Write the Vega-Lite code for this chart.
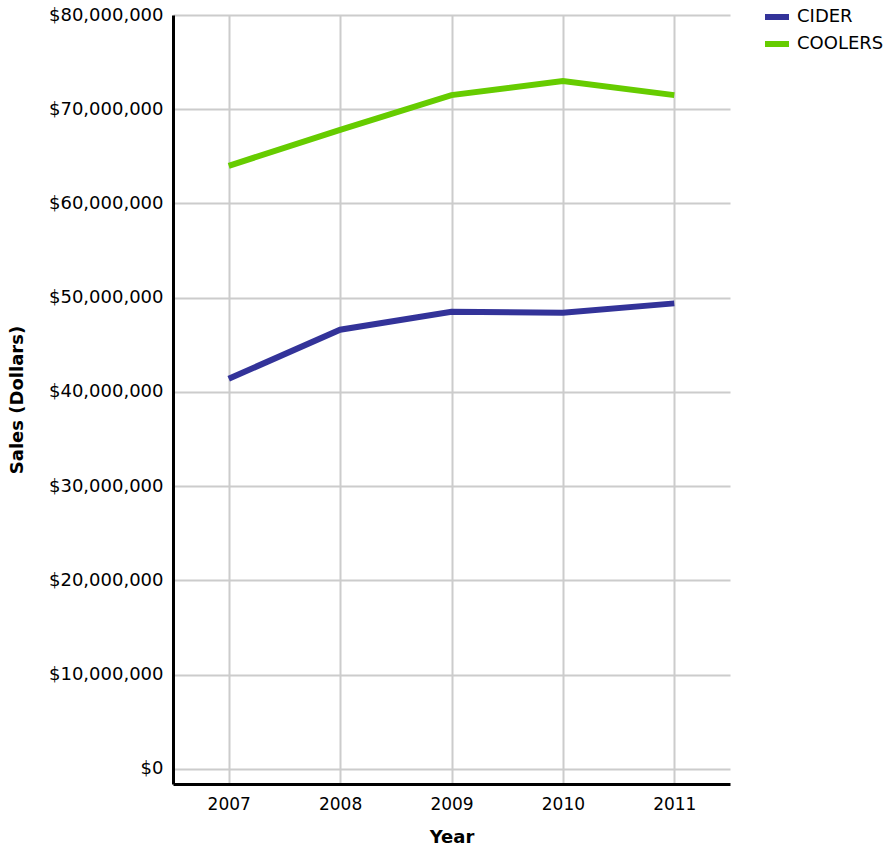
{
  "$schema": "https://vega.github.io/schema/vega-lite/v6.json",
  "width": 557,
  "height": 769,
  "autosize": {"type": "none"},
  "padding": {"left": 173, "top": 15, "right": 158, "bottom": 66},
  "background": "white",
  "config": {
    "view": {"stroke": null},
    "font": "DejaVu Sans"
  },
  "data": {
    "values": [
      {"Year": "2007", "Product": "CIDER", "Sales": 41400000},
      {"Year": "2008", "Product": "CIDER", "Sales": 46600000},
      {"Year": "2009", "Product": "CIDER", "Sales": 48500000},
      {"Year": "2010", "Product": "CIDER", "Sales": 48400000},
      {"Year": "2011", "Product": "CIDER", "Sales": 49400000},
      {"Year": "2007", "Product": "COOLERS", "Sales": 64000000},
      {"Year": "2008", "Product": "COOLERS", "Sales": 67800000},
      {"Year": "2009", "Product": "COOLERS", "Sales": 71500000},
      {"Year": "2010", "Product": "COOLERS", "Sales": 73000000},
      {"Year": "2011", "Product": "COOLERS", "Sales": 71500000}
    ]
  },
  "mark": {"type": "line", "strokeWidth": 6, "strokeCap": "butt", "strokeJoin": "miter"},
  "encoding": {
    "x": {
      "field": "Year",
      "type": "ordinal",
      "scale": {"type": "point", "padding": 0.5},
      "axis": {
        "title": "Year",
        "titleFont": "DejaVu Sans",
        "titleFontSize": 18,
        "titleFontWeight": "bold",
        "titleColor": "#000000",
        "titlePadding": 16,
        "labelAngle": 0,
        "labelFont": "DejaVu Sans",
        "labelFontSize": 17,
        "labelColor": "#000000",
        "labelPadding": 12,
        "ticks": false,
        "domainColor": "#000000",
        "domainWidth": 3,
        "grid": true,
        "gridColor": "#cccccc",
        "gridWidth": 2
      }
    },
    "y": {
      "field": "Sales",
      "type": "quantitative",
      "scale": {"domain": [-1600000, 80000000], "nice": false, "zero": false},
      "axis": {
        "title": "Sales (Dollars)",
        "titleFont": "DejaVu Sans",
        "titleFontSize": 18,
        "titleFontWeight": "bold",
        "titleColor": "#000000",
        "titlePadding": 22,
        "values": [0, 10000000, 20000000, 30000000, 40000000, 50000000, 60000000, 70000000, 80000000],
        "format": "$,.0f",
        "labelFont": "DejaVu Sans",
        "labelFontSize": 18,
        "labelColor": "#000000",
        "labelPadding": 10,
        "labelBaseline": "middle",
        "ticks": false,
        "domainColor": "#000000",
        "domainWidth": 3,
        "grid": true,
        "gridColor": "#cccccc",
        "gridWidth": 2
      }
    },
    "color": {
      "field": "Product",
      "type": "nominal",
      "scale": {"domain": ["CIDER", "COOLERS"], "range": ["#333399", "#66cc00"]},
      "legend": {
        "title": null,
        "orient": "none",
        "legendX": 589,
        "legendY": -13,
        "symbolType": "stroke",
        "symbolSize": 576,
        "symbolStrokeWidth": 6,
        "labelFont": "DejaVu Sans",
        "labelFontSize": 18,
        "labelColor": "#000000",
        "rowPadding": 0,
        "labelOffset": 5
      }
    }
  }
}
